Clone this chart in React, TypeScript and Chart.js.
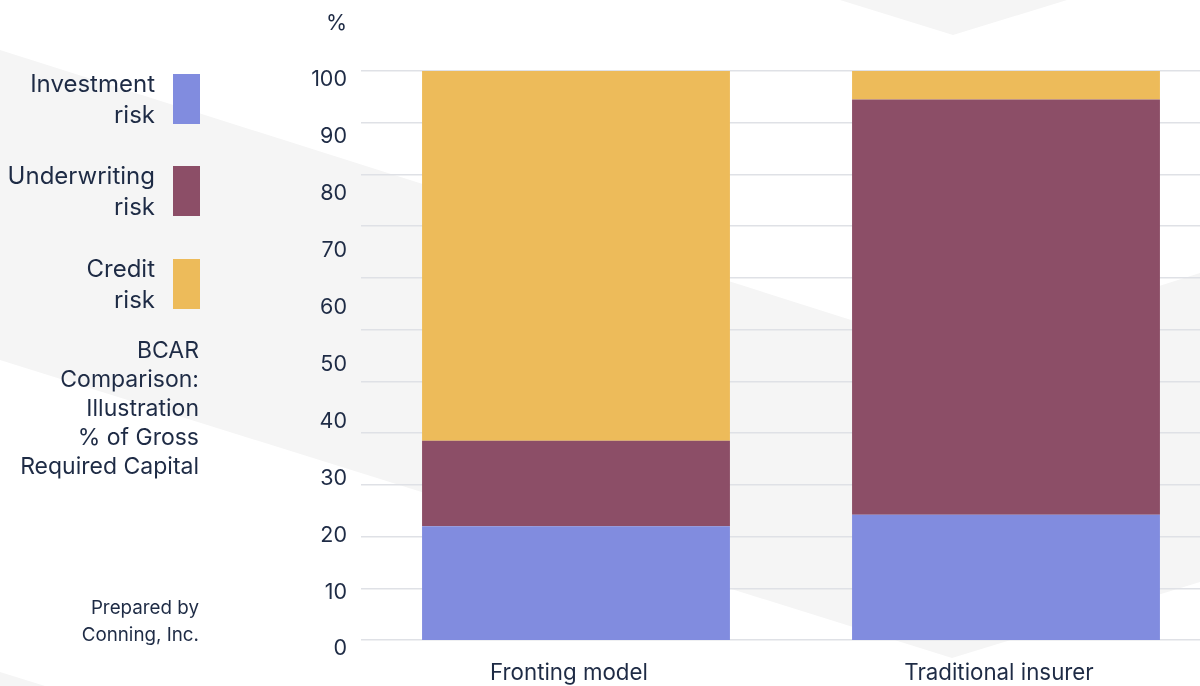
import React, { useEffect, useRef } from "react";
import { Chart, registerables } from "chart.js";

Chart.register(...registerables);

const categories = ["Fronting model", "Traditional insurer"];
const investmentRisk = [20, 22];
const underwritingRisk = [15, 73];
const creditRisk = [65, 5];
const yTickValues = [0, 10, 20, 30, 40, 50, 60, 70, 80, 90, 100];
const gridLineCount = 11;

const TEXT = "#1e2b45";
const FONT = "Inter, 'Noto Sans', sans-serif";

const legendItems = [
  { lines: ["Investment", "risk"], color: "#818cdf", top: 74 },
  { lines: ["Underwriting", "risk"], color: "#8c4e67", top: 166 },
  { lines: ["Credit", "risk"], color: "#edbb5a", top: 259 },
];

export default function App() {
  const canvasRef = useRef<HTMLCanvasElement | null>(null);

  useEffect(() => {
    const canvas = canvasRef.current;
    if (!canvas) return;
    const chart = new Chart(canvas, {
      type: "bar",
      data: {
        labels: categories,
        datasets: [
          { label: "Investment risk", data: investmentRisk, backgroundColor: "#818cdf", yAxisID: "y" },
          { label: "Underwriting risk", data: underwritingRisk, backgroundColor: "#8c4e67", yAxisID: "y" },
          { label: "Credit risk", data: creditRisk, backgroundColor: "#edbb5a", yAxisID: "y" },
        ],
      },
      options: {
        animation: false,
        responsive: false,
        devicePixelRatio: 1,
        layout: { padding: { left: 250, top: 71, right: 0, bottom: 0 } },
        plugins: { legend: { display: false }, tooltip: { enabled: false } },
        datasets: { bar: { categoryPercentage: 1, barPercentage: 0.716 } },
        scales: {
          x: {
            stacked: true,
            grid: { display: false, drawTicks: false },
            border: { display: false },
            ticks: { color: TEXT, font: { family: FONT, size: 22.3 }, padding: 20, labelOffset: -7 },
            afterFit: (s: any) => { s.height = 46; },
          },
          y: {
            stacked: true,
            min: 0,
            max: 100,
            afterBuildTicks: (s: any) => { s.ticks = yTickValues.map((v) => ({ value: v })); },
            grid: { display: false, drawTicks: false },
            border: { display: false },
            ticks: { color: TEXT, font: { family: FONT, size: 21.5 }, padding: 14, labelOffset: 9 },
            afterFit: (s: any) => { s.width = 111; },
          },
          yg: {
            type: "linear",
            position: "right",
            min: 0,
            max: gridLineCount,
            ticks: { display: false, stepSize: 1 },
            grid: { color: "#dfe1e6", lineWidth: 1.5, drawTicks: false },
            border: { display: false },
            afterFit: (s: any) => { s.width = 0; },
          },
        },
      } as any,
    });
    return () => chart.destroy();
  }, []);

  return (
    <div style={{ position: "fixed", left: 0, top: 0, width: 1200, height: 686, overflow: "hidden", background: "#ffffff", fontFamily: FONT, color: TEXT }}>
      <svg width={1200} height={686} style={{ position: "absolute", left: 0, top: 0 }}>
        <polygon points="0,50 952,352 1200,273 1200,582 952,658 0,360" fill="#f5f5f5" />
        <polygon points="840,0 953,35 1067,0" fill="#f5f5f5" />
        <polygon points="0,672 45,686 0,686" fill="#f5f5f5" />
      </svg>
      <canvas ref={canvasRef} width={1221} height={686} style={{ position: "absolute", left: 0, top: 0, width: 1221, height: 686 }} />
      <div style={{ position: "absolute", left: 300, top: 8, width: 47, textAlign: "right", fontSize: 21.5, lineHeight: "28px" }}>%</div>
      {legendItems.map((it) => (
        <React.Fragment key={it.lines[0]}>
          <div style={{ position: "absolute", right: 1200 - 155, top: it.top - 6.5, textAlign: "right", fontSize: 24, lineHeight: "31px", whiteSpace: "nowrap" }}>
            {it.lines.map((l) => (<div key={l}>{l}</div>))}
          </div>
          <div style={{ position: "absolute", left: 173, top: it.top, width: 27, height: 50, background: it.color }} />
        </React.Fragment>
      ))}
      <div style={{ position: "absolute", right: 1200 - 199, top: 335.5, textAlign: "right", fontSize: 23, lineHeight: "29px", whiteSpace: "nowrap" }}>
        <div>BCAR</div>
        <div>Comparison:</div>
        <div>Illustration</div>
        <div>% of Gross</div>
        <div>Required Capital</div>
      </div>
      <div style={{ position: "absolute", right: 1200 - 199, top: 593.5, textAlign: "right", fontSize: 18.8, lineHeight: "27px", whiteSpace: "nowrap" }}>
        <div>Prepared by</div>
        <div>Conning, Inc.</div>
      </div>
    </div>
  );
}
